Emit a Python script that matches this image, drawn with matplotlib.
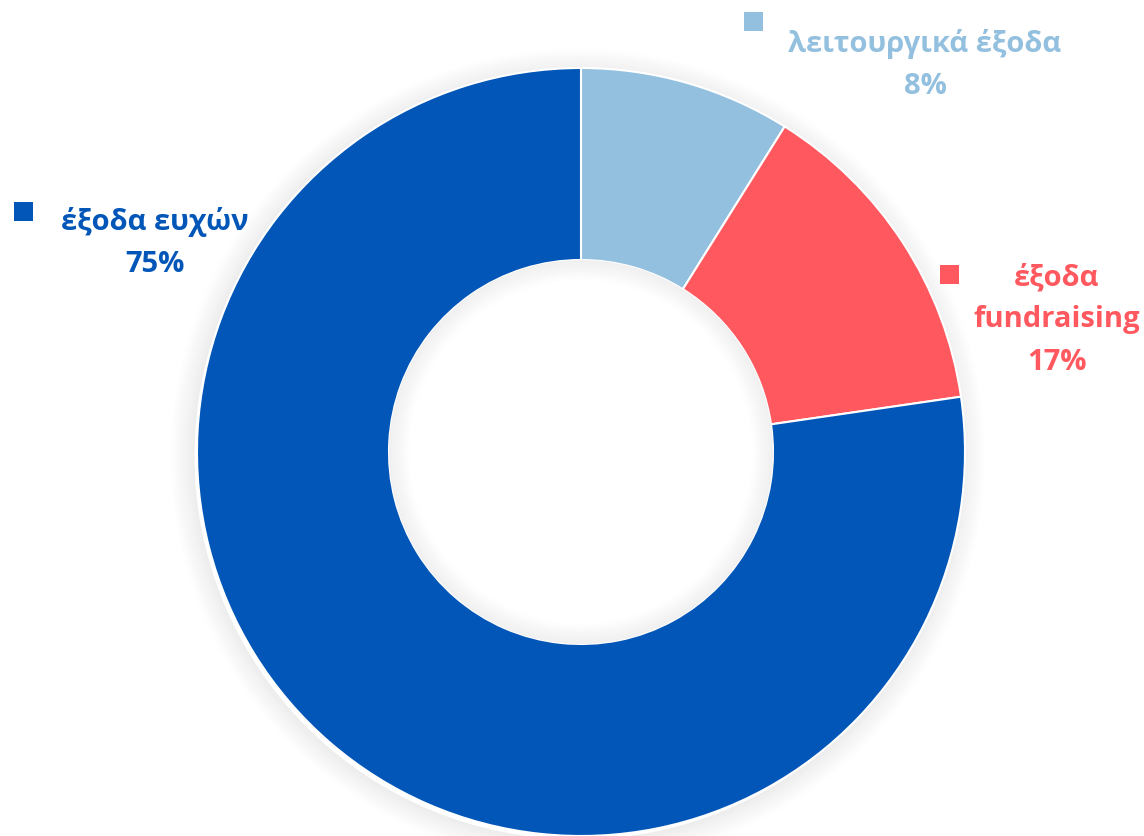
import matplotlib.pyplot as plt
from matplotlib.patches import Wedge, Rectangle

# data
categories = ['λειτουργικά έξοδα', 'έξοδα\nfundraising', 'έξοδα ευχών']
values = [8.9, 13.8, 77.3]          # slice sizes as drawn
pct_labels = ['8%', '17%', '75%']   # percentages printed on the chart
colors = ['#93C0DF', '#FF585E', '#0256B8']

plt.rcParams['font.family'] = ['Open Sans', 'Noto Sans', 'DejaVu Sans']

fig = plt.figure(figsize=(11.44, 8.36), dpi=100)
ax = fig.add_axes([0, 0, 1, 1])

cx, cy = 581, 384
r_out, r_in = 384, 192

# soft shadow outside the ring and inside the hole
for i in range(16):
    a = 0.07 * (1 - i / 16)
    ax.add_patch(Wedge((cx - 3, cy - 4), r_out + 1 + i * 1.5, 0, 360, width=1.5,
                       facecolor='black', alpha=a, linewidth=0, zorder=1))

ax.pie(values, colors=colors, startangle=90, counterclock=False,
       center=(cx, cy), radius=r_out, frame=True,
       wedgeprops=dict(width=r_out - r_in, edgecolor='white', linewidth=1.5))
ax.set_xlim(0, 1144)
ax.set_ylim(0, 836)
ax.set_aspect('equal')
ax.axis('off')

for i in range(14):
    a = 0.06 * (1 - i / 14)
    ax.add_patch(Wedge((cx, cy), r_in - i * 1.5, 0, 360, width=1.5,
                       facecolor='black', alpha=a, linewidth=0, zorder=5))

# labels
label_pos = [(925, 792, 744, 805), (1057, 558, 940, 552), (155, 614, 14, 615)]
fs = 21
for cat, pct, col, (tx, ty, sx, sy) in zip(categories, pct_labels, colors, label_pos):
    ax.add_patch(Rectangle((sx, sy), 19, 19, facecolor=col, linewidth=0, zorder=6))
    lines = cat.split('\n') + [pct]
    for j, line in enumerate(lines):
        ax.text(tx, ty - j * 42, line, color=col, fontsize=fs, fontweight='bold',
                ha='center', va='center', zorder=6)

fig.savefig('out.png', dpi=100)
